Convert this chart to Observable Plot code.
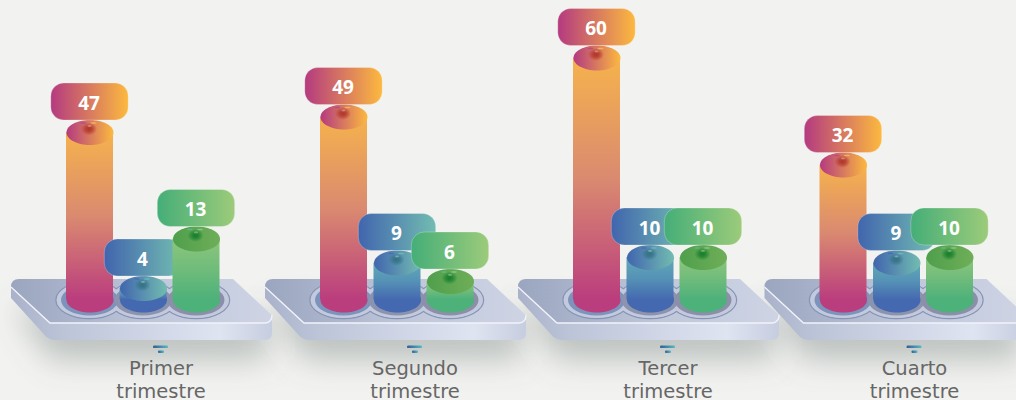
<!DOCTYPE html>
<html><head><meta charset="utf-8">
<script src="https://cdn.jsdelivr.net/npm/d3@7"></script>
<script src="https://cdn.jsdelivr.net/npm/@observablehq/plot@0.6"></script>
<style>html,body{margin:0;padding:0;background:#f2f2f0;overflow:hidden}</style>
</head><body><div id="chart"></div>
<script>
const quarters = ["Primer trimestre", "Segundo trimestre", "Tercer trimestre", "Cuarto trimestre"];
const seriesA = [47, 49, 60, 32];
const seriesB = [4, 9, 10, 9];
const seriesC = [13, 6, 10, 10];

// The reference is not proportional; its height for each value is read off the picture.
const yDomain = [0, 4, 6, 9, 10, 13, 32, 47, 49, 60];
const yRange = [299.5, 288, 281, 262.5, 257, 238.5, 164.5, 132, 116.5, 57.5];
const xRange = [143, 397, 650, 896.5];

const palette = {
  A: {left: "#b43a80", right: "#fcb93f", top: "#f6b24c", mid: "#da8a70", bottom: "#ba3d7e", spot: "#ad2e22", d1: "#b5408c", d2: "#f5c060"},
  B: {left: "#4165ae", right: "#72bcb1", top: "#62a9b6", mid: "#5592b6", bottom: "#4569b0", spot: "#2f6f80", d1: "#4a62b5", d2: "#6fc0b8"},
  C: {left: "#45ae78", right: "#9ccb7a", top: "#8dc67c", mid: "#70bc7b", bottom: "#4db17a", spot: "#0f7a28", d1: "#5cc0a0", d2: "#8fd0a0", capL: "#4f9f4c", capR: "#6fae58"}
};

function ellipse(aspect) {
  return {draw(ctx, size) {
    const rx = Math.sqrt(size / Math.PI), ry = rx * aspect, k = 0.5523;
    ctx.moveTo(-rx, 0);
    ctx.bezierCurveTo(-rx, -k * ry, -k * rx, -ry, 0, -ry);
    ctx.bezierCurveTo(k * rx, -ry, rx, -k * ry, rx, 0);
    ctx.bezierCurveTo(rx, k * ry, k * rx, ry, 0, ry);
    ctx.bezierCurveTo(-k * rx, ry, -rx, k * ry, -rx, 0);
    ctx.closePath();
  }};
}

function defsMark() {
  const g = d3.create("svg:g");
  const defs = g.append("defs");
  const lin = (id, stops, x2 = 1, y2 = 0) => {
    const gr = defs.append("linearGradient").attr("id", id).attr("x1", 0).attr("y1", 0).attr("x2", x2).attr("y2", y2);
    stops.forEach(([o, c]) => gr.append("stop").attr("offset", o).attr("stop-color", c));
  };
  const rad = (id, c) => {
    const gr = defs.append("radialGradient").attr("id", id);
    gr.append("stop").attr("offset", 0).attr("stop-color", c).attr("stop-opacity", 0.9);
    gr.append("stop").attr("offset", 0.4).attr("stop-color", c).attr("stop-opacity", 0.7);
    gr.append("stop").attr("offset", 1).attr("stop-color", c).attr("stop-opacity", 0);
  };
  for (const k of Object.keys(palette)) {
    const p = palette[k];
    lin("pill" + k, [[0, p.left], [1, p.right]]);
    lin("cap" + k, [[0, p.capL || p.left], [1, p.capR || p.right]]);
    lin("body" + k, [[0, p.top], [0.5, p.mid], [1, p.bottom]], 0, 1);
    rad("spot" + k, p.spot);
  }
  lin("plateTop", [[0, "#9aa5bf"], [0.55, "#bfc7da"], [1, "#ced4e4"]]);
  lin("plateSide", [[0, "#a9b2ca"], [0.2, "#bcc4d8"], [0.8, "#dfe4f1"], [1, "#c6cddf"]]);
  lin("icon", [[0, "#2f5f95"], [1, "#58b8c8"]]);
  defs.append("filter").attr("id", "soft").attr("x", "-30%").attr("y", "-80%").attr("width", "160%").attr("height", "260%")
    .append("feGaussianBlur").attr("stdDeviation", 15);
  return g.node();
}

function platformsMark(index, scales) {
  const g = d3.create("svg:g");
  const base = scales.y(0);
  const centers = quarters.map((_, i) => scales.x(i));
  centers.forEach(cx => {
    g.append("path").attr("filter", "url(#soft)").attr("fill", "#6f7f79").attr("fill-opacity", 0.42)
      .attr("d", `M${cx - 128},${base + 8}L${cx - 92},${base + 60}L${cx + 124},${base + 60}L${cx + 124},${base + 20}Z`);
  });
  centers.forEach(cx => {
    const p = (x, y) => `${cx + x},${base + y}`;
    const s = g.append("g");
    s.append("path").attr("fill", "url(#plateSide)")
      .attr("d", `M${p(-132, -12.5)}L${p(-132, -1.5)}L${p(-97, 37)}Q${p(-93, 40.5)} ${p(-89, 40.5)}L${p(122, 40.5)}Q${p(129, 40.5)} ${p(129, 33)}L${p(129, 15)}Z`);
    s.append("path").attr("fill", "url(#plateTop)")
      .attr("d", `M${p(-132, -12.5)}Q${p(-132, -20.5)} ${p(-124, -20.5)}L${p(90, -20.5)}L${p(126, 13)}Q${p(132, 23.5)} ${p(122, 23.5)}L${p(-93, 23.5)}Z`);
    s.append("path").attr("fill", "none").attr("stroke", "#f2f4fa").attr("stroke-width", 1.3)
      .attr("d", `M${p(-132, -12.5)}L${p(-93, 23.5)}L${p(122, 23.5)}Q${p(129, 23.5)} ${p(129, 15)}`);
    const offs = [-53.5, 0, 53];
    offs.forEach(o => s.append("ellipse").attr("cx", cx + o).attr("cy", base + 0.5).attr("rx", 33.5).attr("ry", 18.5)
      .attr("fill", "none").attr("stroke", "#8794b6").attr("stroke-width", 1.5));
    offs.forEach(o => s.append("ellipse").attr("cx", cx + o).attr("cy", base + 0.5).attr("rx", 33).attr("ry", 18).attr("fill", "#c3cadd"));
    [["#7c93bb"], ["#8b93ae"], ["#8c8fa9"]].forEach(([c], j) => s.append("ellipse")
      .attr("cx", cx + offs[j]).attr("cy", base + 0.5).attr("rx", 28.5).attr("ry", 15.5).attr("fill", c));
    s.append("rect").attr("x", cx + 10).attr("y", base + 46).attr("width", 15).attr("height", 2.6).attr("rx", 1.2).attr("fill", "url(#icon)");
    s.append("rect").attr("x", cx + 15).attr("y", base + 51).attr("width", 6).attr("height", 2.4).attr("rx", 1).attr("fill", "url(#icon)");
  });
  return g.node();
}

function seriesMarks(values, key, dx) {
  const rows = values.map((v, i) => ({i, v}));
  const p = palette[key];
  const X = d => d.i, V = d => d.v;
  const capR = 23.5;
  return [
    Plot.dot(rows, {x: X, y: () => 0, dx, r: capR, symbol: ellipse(0.53), fill: p.bottom}),
    Plot.rect(rows, {x1: X, x2: X, y1: () => 0, y2: V, dx, insetLeft: -capR, insetRight: -capR, fill: `url(#body${key})`}),
    Plot.dot(rows, {x: X, y: V, dx, r: capR, symbol: ellipse(0.53), fill: `url(#cap${key})`}),
    Plot.dot(rows, {x: X, y: V, dx: dx - 1, dy: -3.5, r: 8, symbol: ellipse(0.8), fill: `url(#spot${key})`}),
    Plot.dot(rows, {x: X, y: V, dx: dx - 0.5, dy: -6.5, r: 2, symbol: ellipse(0.45), fill: "#fff", fillOpacity: 0.3}),
    Plot.dot(rows, {x: X, y: V, dx: dx - 6.5, dy: -9.5, r: 3, symbol: ellipse(0.25), fill: p.d1, fillOpacity: 0.7}),
    Plot.dot(rows, {x: X, y: V, dx: dx + 3.5, dy: -9.5, r: 3.2, symbol: ellipse(0.25), fill: p.d2, fillOpacity: 0.75}),
    Plot.rect(rows, {x1: X, x2: X, y1: V, y2: V, dx, dy: -30.5, insetLeft: -38.7, insetRight: -38.7, insetTop: -18.5, insetBottom: -18.5, rx: 13, fill: `url(#pill${key})`, stroke: "#fff", strokeOpacity: 0.25, strokeWidth: 1}),
    Plot.text(rows, {x: X, y: V, dx: dx - 1, dy: -29, text: V, fill: "#fff", fontSize: 19, fontWeight: 700, fontFamily: "'Open Sans', sans-serif"})
  ];
}

const chart = Plot.plot({
  width: 1016, height: 400,
  marginTop: 0, marginRight: 0, marginBottom: 0, marginLeft: 0,
  style: {background: "transparent"},
  x: {type: "linear", domain: quarters.map((_, i) => i), range: xRange, axis: null},
  y: {type: "linear", domain: yDomain, range: yRange, axis: null},
  marks: [
    defsMark,
    platformsMark,
    ...seriesMarks(seriesA, "A", -53.5),
    ...seriesMarks(seriesB, "B", 0),
    ...seriesMarks(seriesC, "C", 53),
    Plot.text(quarters, {
      x: (d, i) => i, text: d => d, frameAnchor: "bottom", dx: 17.5, dy: -3,
      lineWidth: 5, lineHeight: 1.18, fontSize: 19.5, fill: "#666",
      fontFamily: "'DejaVu Sans', sans-serif"
    })
  ]
});
document.getElementById("chart").append(chart);
</script>
</body></html>
